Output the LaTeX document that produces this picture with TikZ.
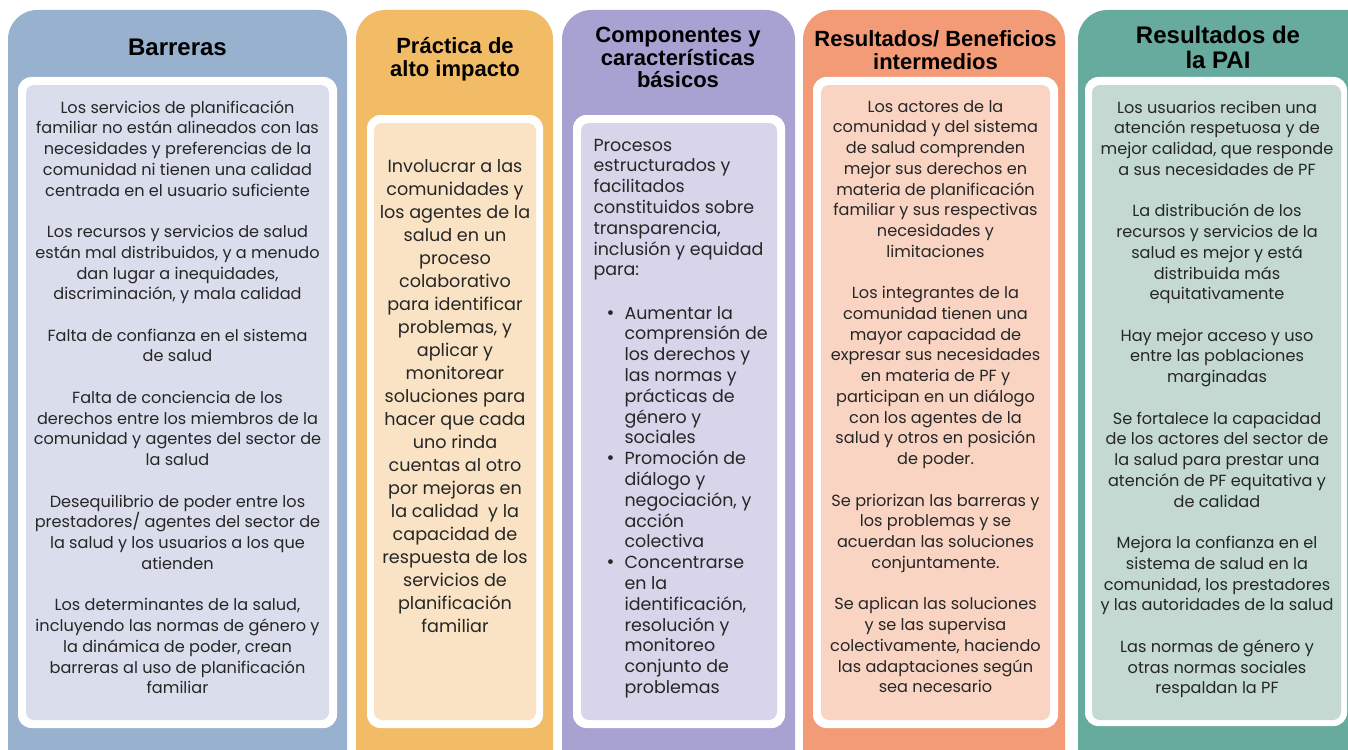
\documentclass[tikz,border=0pt]{standalone}
\usepackage{fontspec}
\setmainfont{Poppins}
\newfontfamily\headfont{Liberation Sans}

\definecolor{barrerasdark}{HTML}{97B1CE}
\definecolor{barreraslight}{HTML}{DADDEC}
\definecolor{practicadark}{HTML}{F2BB66}
\definecolor{practicalight}{HTML}{FAE3C4}
\definecolor{componentesdark}{HTML}{A7A2D2}
\definecolor{componenteslight}{HTML}{D8D5EB}
\definecolor{beneficiosdark}{HTML}{F39A76}
\definecolor{beneficioslight}{HTML}{F9D4C3}
\definecolor{paidark}{HTML}{66AB9E}
\definecolor{pailight}{HTML}{C3D9D2}

\tikzset{every picture/.style={line width=0.75pt}}
\tikzset{
  outerbox/.style={rounded corners=22pt},
  framebox/.style={fill=white, rounded corners=10pt},
  innerbox/.style={rounded corners=6pt},
  headtext/.style={inner sep=0pt, align=center, text=black,
    font=\headfont\bfseries\fontsize{16.5}{17.25}\selectfont},
  bigheadtext/.style={headtext, font=\headfont\bfseries\fontsize{18}{18.75}\selectfont},
  bodytext/.style={inner sep=0pt, align=center, text=black!85,
    font=\fontsize{12.1}{15.56}\selectfont},
}

\begin{document}
\begin{tikzpicture}[x=0.75pt,y=0.75pt,yscale=-1]
\useasboundingbox (0,0) rectangle (1348,749);
\clip (0,0) rectangle (1348,749);

%Rounded Rect: Barreras
\fill [barrerasdark, outerbox] (8,10) rectangle (347,790) ;
\fill [framebox] (18,77) rectangle (337,728) ;
\fill [barreraslight, innerbox] (26,85) rectangle (329,720) ;
%Rounded Rect: Practica
\fill [practicadark, outerbox] (356,10) rectangle (553,790) ;
\fill [framebox] (367,115) rectangle (543,728) ;
\fill [practicalight, innerbox] (374,123) rectangle (536,720) ;
%Rounded Rect: Componentes
\fill [componentesdark, outerbox] (562,10) rectangle (795,790) ;
\fill [framebox] (573,115) rectangle (785,728) ;
\fill [componenteslight, innerbox] (581,123) rectangle (777,720) ;
%Rounded Rect: Beneficios
\fill [beneficiosdark, outerbox] (803,10) rectangle (1065,790) ;
\fill [framebox] (813,77) rectangle (1058,728) ;
\fill [beneficioslight, innerbox] (821,85) rectangle (1050,720) ;
%Rounded Rect: PAI
\fill [paidark, outerbox] (1078,10) rectangle (1380,790) ;
\fill [framebox] (1085,77) rectangle (1347,726) ;
\fill [pailight, innerbox] (1092,85) rectangle (1341,720) ;

% Text Node
\draw (177.5,47) node (barrerastitle) [bigheadtext] {Barreras};
% Text Node
\draw (455,59) node (practicatitle) [headtext] {Práctica de\\alto impacto};
% Text Node
\draw (678,57.5) node (componentestitle) [headtext, font=\headfont\bfseries\fontsize{16.5}{16.9}\selectfont] {Componentes y\\características\\básicos};
% Text Node
\draw (935.5,50.5) node (beneficiostitle) [headtext] {Resultados/ Beneficios\\intermedios};
% Text Node
\draw (1218,47.5) node (paititle) [bigheadtext] {Resultados de\\la PAI};

% Text Node
\draw (177.5,98) node (barrerastext) [bodytext, anchor=north] {\strut Los servicios de planificación\\familiar no están alineados con las\\necesidades y preferencias de la\\comunidad ni tienen una calidad\\centrada en el usuario suficiente\\[\baselineskip]
Los recursos y servicios de salud\\están mal distribuidos, y a menudo\\dan lugar a inequidades,\\discriminación, y mala calidad\\[\baselineskip]
Falta de confianza en el sistema\\de salud\\[\baselineskip]
Falta de conciencia de los\\derechos entre los miembros de la\\comunidad y agentes del sector de\\la salud\\[\baselineskip]
Desequilibrio de poder entre los\\prestadores/ agentes del sector de\\la salud y los usuarios a los que\\atienden\\[\baselineskip]
Los determinantes de la salud,\\incluyendo las normas de género y\\la dinámica de poder, crean\\barreras al uso de planificación\\familiar};

% Text Node
\draw (455,156) node (practicatext) [bodytext, anchor=north, font=\fontsize{13.2}{17.25}\selectfont] {\strut Involucrar a las\\comunidades y\\los agentes de la\\salud en un\\proceso\\colaborativo\\para identificar\\problemas, y\\aplicar y\\monitorear\\soluciones para\\hacer que cada\\uno rinda\\cuentas al otro\\por mejoras en\\la calidad \ y la\\capacidad de\\respuesta de los\\servicios de\\planificación\\familiar};

% Text Node
\draw (593,136) node (componentestext) [bodytext, anchor=north west, align=left, font=\fontsize{13.1}{15.6}\selectfont] {\strut Procesos\\estructurados y\\facilitados\\constituidos sobre\\transparencia,\\inclusión y equidad\\para:};
% Text Node
\draw (606,304) node (componenteslist) [bodytext, anchor=north west, font=\fontsize{13.1}{15.6}\selectfont] {\begin{tabular}{@{}p{13.5pt}@{}l@{}}
{\Large\textbullet} & Aumentar la\\ & comprensión de\\ & los derechos y\\ & las normas y\\ & prácticas de\\ & género y\\ & sociales\\
{\Large\textbullet} & Promoción de\\ & diálogo y\\ & negociación, y\\ & acción\\ & colectiva\\
{\Large\textbullet} & Concentrarse\\ & en la\\ & identificación,\\ & resolución y\\ & monitoreo\\ & conjunto de\\ & problemas
\end{tabular}};

% Text Node
\draw (935.5,97) node (beneficiostext) [bodytext, anchor=north] {\strut Los actores de la\\comunidad y del sistema\\de salud comprenden\\mejor sus derechos en\\materia de planificación\\familiar y sus respectivas\\necesidades y\\limitaciones\\[\baselineskip]
Los integrantes de la\\comunidad tienen una\\mayor capacidad de\\expresar sus necesidades\\en materia de PF y\\participan en un diálogo\\con los agentes de la\\salud y otros en posición\\de poder.\\[\baselineskip]
Se priorizan las barreras y\\los problemas y se\\acuerdan las soluciones\\conjuntamente.\\[\baselineskip]
Se aplican las soluciones\\y se las supervisa\\colectivamente, haciendo\\las adaptaciones según\\sea necesario};

% Text Node
\draw (1217,98) node (paitext) [bodytext, anchor=north] {\strut Los usuarios reciben una\\atención respetuosa y de\\mejor calidad, que responde\\a sus necesidades de PF\\[\baselineskip]
La distribución de los\\recursos y servicios de la\\salud es mejor y está\\distribuida más\\equitativamente\\[\baselineskip]
Hay mejor acceso y uso\\entre las poblaciones\\marginadas\\[\baselineskip]
Se fortalece la capacidad\\de los actores del sector de\\la salud para prestar una\\atención de PF equitativa y\\de calidad\\[\baselineskip]
Mejora la confianza en el\\sistema de salud en la\\comunidad, los prestadores\\y las autoridades de la salud\\[\baselineskip]
Las normas de género y\\otras normas sociales\\respaldan la PF};

\end{tikzpicture}
\end{document}
